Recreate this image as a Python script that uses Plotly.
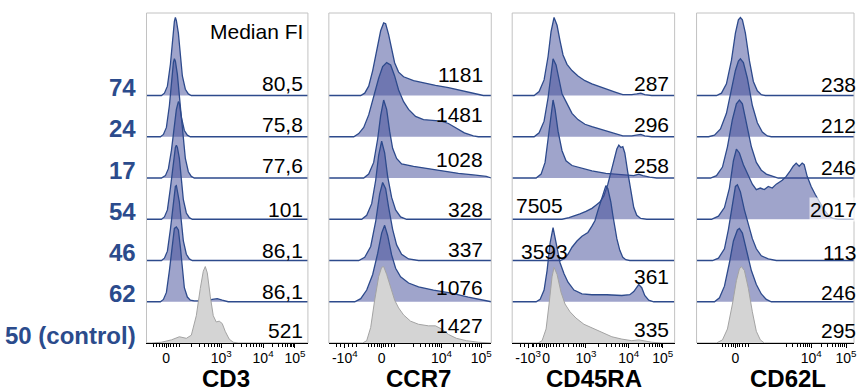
import math
import plotly.graph_objects as go

W, H = 857, 391

# ---------------- data ----------------
ROWS = ["74", "24", "17", "54", "46", "62", "50 (control)"]
MARKERS = ["CD3", "CCR7", "CD45RA", "CD62L"]

MEDIAN_CD3 = ["80,5", "75,8", "77,6", "101", "86,1", "86,1", "521"]
MEDIAN_CCR7 = ["1181", "1481", "1028", "328", "337", "1076", "1427"]
MEDIAN_CD45RA = ["287", "296", "258", "7505", "3593", "361", "335"]
MEDIAN_CD62L = ["238", "212", "246", "2017", "113", "246", "295"]

# tick positions on the display (biexponential channel) scale and their labels
CD3_TICKVALS = [19.7, 75, 117, 149]
CD3_TICKTEXT = ["0", "10<sup>3</sup>", "10<sup>4</sup>", "10<sup>5</sup>"]
CCR7_TICKVALS = [16, 53, 113, 153]
CCR7_TICKTEXT = ["-10<sup>4</sup>", "0", "10<sup>4</sup>", "10<sup>5</sup>"]
CD45RA_TICKVALS = [16, 34, 74, 117, 151]
CD45RA_TICKTEXT = ["-10<sup>3</sup>", "0", "10<sup>3</sup>", "10<sup>4</sup>", "10<sup>5</sup>"]
CD62L_TICKVALS = [39, 115, 150]
CD62L_TICKTEXT = ["0", "10<sup>4</sup>", "10<sup>5</sup>"]

# histograms: (display channel, % of mode)
CD3_74 = [(0, 0), (15, 0), (18, 3), (21, 12), (24, 40), (26, 70), (28, 95), (29, 100), (30, 96), (32, 80), (34, 50), (36, 25), (39, 8), (42, 2), (45, 0), (162, 0)]
CD3_24 = [(0, 0), (14, 0), (17, 3), (20, 12), (23, 40), (25, 72), (27, 95), (28, 100), (29, 97), (31, 80), (33, 50), (35, 25), (38, 8), (41, 2), (44, 0), (162, 0)]
CD3_17 = [(0, 0), (15, 0), (19, 3), (22, 12), (25, 35), (28, 65), (30, 88), (32, 98), (33, 96), (35, 78), (37, 50), (39, 25), (42, 8), (45, 2), (48, 0), (162, 0)]
CD3_54 = [(0, 0), (15, 0), (18, 3), (21, 12), (24, 40), (27, 75), (29, 92), (30, 95), (31, 92), (33, 78), (35, 50), (37, 25), (40, 8), (43, 2), (46, 0), (162, 0)]
CD3_46 = [(0, 0), (15, 0), (18, 3), (21, 12), (24, 40), (27, 78), (29, 95), (30, 96), (31, 90), (33, 75), (35, 50), (37, 25), (40, 8), (43, 2), (46, 0), (162, 0)]
CD3_62 = [(0, 0), (14, 0), (17, 3), (20, 12), (23, 40), (26, 78), (28, 94), (30, 96), (32, 92), (34, 70), (36, 40), (38, 18), (41, 6), (44, 2), (48, 1), (60, 1), (66, 3), (71, 4), (76, 2), (82, 0), (162, 0)]
CD3_CTRL = [(0, 0), (5, 0), (15, 1), (25, 4), (33, 8), (40, 6), (45, 10), (50, 35), (54, 70), (57, 92), (59, 98), (61, 90), (64, 60), (67, 35), (70, 27), (73, 28), (76, 25), (79, 15), (83, 5), (87, 1), (92, 0), (162, 0)]

CCR7_74 = [(0, 0), (32, 0), (36, 3), (40, 12), (44, 32), (48, 60), (52, 83), (55, 93), (57, 92), (60, 78), (63, 58), (66, 42), (70, 30), (75, 24), (85, 19), (95, 16), (107, 13), (120, 10), (135, 6), (148, 2), (155, 0), (163, 0)]
CCR7_24 = [(0, 0), (25, 0), (30, 4), (35, 12), (40, 28), (45, 52), (50, 75), (54, 90), (58, 95), (62, 92), (66, 78), (70, 60), (75, 45), (80, 35), (87, 26), (95, 22), (105, 21), (113, 20), (120, 17), (128, 11), (136, 5), (145, 1), (150, 0), (163, 0)]
CCR7_17 = [(0, 0), (35, 0), (40, 5), (45, 20), (49, 50), (52, 80), (55, 100), (58, 88), (61, 60), (64, 38), (68, 25), (73, 18), (85, 15), (100, 12), (115, 9), (130, 6), (145, 4), (158, 2), (163, 0)]
CCR7_54 = [(0, 0), (33, 0), (38, 5), (43, 20), (47, 50), (50, 82), (53, 100), (56, 85), (59, 55), (63, 28), (67, 12), (72, 3), (78, 0), (163, 0)]
CCR7_46 = [(0, 0), (30, 0), (36, 4), (42, 18), (47, 50), (51, 85), (54, 100), (57, 92), (60, 68), (64, 40), (68, 20), (73, 8), (80, 2), (90, 0), (163, 0)]
CCR7_62 = [(0, 0), (26, 0), (32, 4), (38, 15), (44, 35), (49, 62), (53, 88), (56, 98), (59, 85), (63, 60), (67, 43), (72, 32), (80, 24), (90, 19), (105, 15), (123, 11), (140, 6), (157, 2), (163, 0)]
CCR7_CTRL = [(0, 0), (34, 0), (38, 3), (42, 20), (46, 55), (50, 85), (53, 97), (55, 98), (58, 88), (62, 72), (66, 55), (70, 45), (75, 36), (82, 28), (90, 24), (100, 22), (107, 22), (113, 18), (120, 11), (128, 6), (138, 3), (150, 1), (158, 0), (163, 0)]

CD45RA_74 = [(0, 0), (22, 0), (27, 5), (32, 20), (36, 50), (39, 82), (42, 100), (45, 90), (48, 70), (51, 52), (55, 40), (60, 32), (66, 25), (73, 19), (80, 15), (88, 11), (96, 7), (104, 4), (111, 1), (120, 1), (125, 2), (129, 3), (133, 1), (140, 0), (163, 0)]
CD45RA_24 = [(0, 0), (22, 0), (27, 5), (32, 20), (36, 50), (39, 82), (41, 100), (44, 92), (47, 72), (50, 55), (54, 45), (60, 30), (66, 22), (73, 16), (80, 13), (88, 10), (96, 6), (104, 3), (111, 1), (120, 1), (125, 2), (129, 3), (133, 1), (140, 0), (163, 0)]
CD45RA_17 = [(0, 0), (24, 0), (29, 5), (33, 20), (36, 50), (39, 85), (41, 100), (43, 88), (46, 60), (50, 35), (54, 22), (60, 16), (70, 12), (80, 9), (94, 6), (110, 4), (122, 3), (127, 5), (131, 3), (138, 1), (145, 0), (163, 0)]
CD45RA_54 = [(0, 0), (50, 0), (57, 2), (62, 4), (68, 7), (74, 10), (80, 14), (84, 18), (88, 22), (92, 30), (96, 45), (100, 65), (103, 82), (105, 90), (107, 95), (109, 92), (111, 93), (113, 85), (116, 60), (119, 35), (122, 15), (125, 5), (129, 1), (135, 0), (163, 0)]
CD45RA_46 = [(0, 0), (48, 0), (52, 2), (56, 8), (60, 17), (65, 25), (70, 31), (76, 36), (80, 44), (83, 51), (86, 64), (89, 76), (92, 90), (94, 96), (96, 92), (99, 75), (101, 58), (103, 42), (105, 28), (108, 13), (111, 4), (114, 1), (118, 0), (163, 0)]
CD45RA_62 = [(0, 0), (24, 0), (28, 3), (32, 15), (35, 40), (38, 75), (41, 95), (44, 75), (48, 50), (52, 36), (56, 25), (62, 15), (70, 10), (80, 9), (95, 9), (110, 8), (118, 9), (122, 13), (125, 19), (127, 22), (130, 18), (133, 8), (137, 2), (142, 0), (163, 0)]
CD45RA_CTRL = [(0, 0), (26, 0), (30, 3), (34, 18), (37, 50), (40, 85), (42, 97), (45, 88), (49, 65), (53, 50), (58, 40), (64, 32), (72, 24), (81, 19), (90, 13), (100, 8), (110, 5), (120, 3), (127, 4), (131, 3), (140, 1), (150, 0), (163, 0)]

CD62L_74 = [(0, 0), (20, 0), (25, 3), (30, 15), (35, 45), (39, 80), (42, 97), (44, 100), (46, 97), (49, 80), (53, 45), (57, 18), (61, 6), (65, 1), (69, 0), (158, 0)]
CD62L_24 = [(0, 0), (12, 0), (18, 2), (24, 10), (30, 30), (35, 60), (39, 85), (42, 97), (44, 100), (47, 95), (51, 75), (56, 40), (61, 18), (66, 6), (71, 1), (75, 0), (158, 0)]
CD62L_17 = [(0, 0), (14, 0), (20, 3), (26, 14), (31, 40), (36, 75), (40, 95), (43, 100), (46, 95), (50, 70), (55, 40), (60, 20), (65, 10), (70, 5), (76, 2), (82, 0), (158, 0)]
CD62L_54 = [(0, 0), (15, 0), (22, 4), (28, 15), (33, 40), (37, 75), (40, 90), (43, 85), (47, 70), (52, 55), (56, 45), (60, 38), (64, 40), (68, 38), (72, 42), (76, 40), (80, 45), (86, 50), (90, 55), (94, 62), (97, 68), (100, 72), (103, 68), (106, 72), (108, 70), (111, 55), (115, 42), (119, 32), (123, 23), (128, 12), (133, 4), (137, 1), (142, 0), (158, 0)]
CD62L_46 = [(0, 0), (16, 0), (22, 3), (28, 15), (32, 40), (36, 75), (39, 95), (41, 97), (44, 88), (48, 65), (52, 45), (56, 28), (60, 15), (65, 6), (72, 2), (80, 0), (158, 0)]
CD62L_62 = [(0, 0), (18, 0), (23, 5), (28, 20), (33, 50), (37, 78), (41, 92), (43, 94), (46, 88), (50, 65), (55, 40), (60, 22), (65, 10), (70, 3), (75, 0), (158, 0)]
CD62L_CTRL = [(0, 0), (20, 0), (26, 4), (31, 18), (36, 50), (40, 80), (43, 95), (45, 98), (48, 93), (52, 70), (56, 40), (60, 15), (64, 4), (68, 0), (158, 0)]

# ---------------- layout / style ----------------
FONT = "Liberation Sans, Arial, sans-serif"
BLUE_LINE = "#2d4a8c"
BLUE_FILL = "rgba(63,73,151,0.5)"
GRAY_LINE = "#a3a3a3"
GRAY_FILL = "#d4d4d4"
LABEL_BLUE = "#2b4b8c"

TOP_PX, BOT_PX = 13, 343
ROW_PX = (BOT_PX - TOP_PX) / 8.0
PEAK_ROWS = 78 / ROW_PX  # height of a 100% peak, in row units

# panel pixel extents (left, right) ; last panel is cut by the page edge
PANELS_PX = [(147, 309), (330, 493), (514, 677), (699, 857)]


def px_x(p):
    return p / W


def px_y(p):
    return 1 - p / H


def log_minor(a, b):
    return [a + (b - a) * math.log10(k) for k in range(2, 10)]


panels = [
    dict(name="CD3", rows=[CD3_74, CD3_24, CD3_17, CD3_54, CD3_46, CD3_62, CD3_CTRL],
         med=MEDIAN_CD3, tv=CD3_TICKVALS, tt=CD3_TICKTEXT,
         offs=[12.5, 12, 12.5, 9.5, 10.5, 10.5, 12.5], left=[], title_x=226.5),
    dict(name="CCR7", rows=[CCR7_74, CCR7_24, CCR7_17, CCR7_54, CCR7_46, CCR7_62, CCR7_CTRL],
         med=MEDIAN_CCR7, tv=CCR7_TICKVALS, tt=CCR7_TICKTEXT,
         offs=[21.5, 22.5, 18.5, 10, 11.5, 14.5, 18], left=[], title_x=420),
    dict(name="CD45RA", rows=[CD45RA_74, CD45RA_24, CD45RA_17, CD45RA_54, CD45RA_46, CD45RA_62, CD45RA_CTRL],
         med=MEDIAN_CD45RA, tv=CD45RA_TICKVALS, tt=CD45RA_TICKTEXT,
         offs=[12.5, 12.5, 12.5, 13.5, 9.5, 25.5, 13.5], left=[3, 4], title_x=596),
    dict(name="CD62L", rows=[CD62L_74, CD62L_24, CD62L_17, CD62L_54, CD62L_46, CD62L_62, CD62L_CTRL],
         med=MEDIAN_CD62L, tv=CD62L_TICKVALS, tt=CD62L_TICKTEXT,
         offs=[11.5, 11.5, 11, 9.5, 8, 9.5, 12.5], left=[], title_x=791),
]
LEFT_TEXT_PX = {3: 516, 4: 521}
RIGHT_TEXT_PX = [306, 487, 673, 861]

fig = go.Figure()
annotations = []
shapes = []
layout_axes = {}

for pi, p in enumerate(panels):
    ax = "x" if pi == 0 else f"x{pi + 1}"
    lpx, rpx = PANELS_PX[pi]
    n = len(p["rows"])
    for ri, hist in enumerate(p["rows"]):
        base = n - 1 - ri
        xs = [v[0] for v in hist]
        ys = [base + v[1] / 100.0 * PEAK_ROWS for v in hist]
        ctrl = ri == n - 1
        fig.add_trace(go.Scatter(
            x=xs, y=ys, xaxis=ax, yaxis="y", mode="lines",
            fill="toself",
            fillcolor=GRAY_FILL if ctrl else BLUE_FILL,
            line=dict(color=GRAY_LINE if ctrl else BLUE_LINE, width=1 if ctrl else 1.3),
            hoverinfo="skip", showlegend=False,
        ))
        # median label
        y_lab = base + p["offs"][ri] / ROW_PX
        if ri in p["left"]:
            annotations.append(dict(x=px_x(LEFT_TEXT_PX[ri]), xref="paper", y=y_lab, yref="y",
                                    text=p["med"][ri], showarrow=False, xanchor="left", yanchor="middle",
                                    font=dict(family=FONT, size=21, color="black")))
        else:
            extra = {}
            if p["med"][ri] == "2017":
                extra = dict(bgcolor="rgba(255,255,255,0.65)", borderpad=0)
            annotations.append(dict(x=px_x(RIGHT_TEXT_PX[pi]), xref="paper", y=y_lab, yref="y",
                                    text=p["med"][ri], showarrow=False, xanchor="right", yanchor="middle",
                                    font=dict(family=FONT, size=21, color="black"), **extra))

    # minor ticks (biexponential-like decades)
    tv = p["tv"]
    zero = tv[p["tt"].index("0")]
    pos = [t for t, s in zip(tv, p["tt"]) if s.startswith("10")]
    minor = [zero + d for d in (-13, -10, -7, -4, -2, 2, 4, 7, 10, 13)]
    if len(pos) >= 2:
        step = pos[1] - pos[0]
        decs = [pos[0] - step] + pos
        for a, b in zip(decs[:-1], decs[1:]):
            minor += [m for m in log_minor(a, b) if m > zero + 15]
    neg = [t for t, s in zip(tv, p["tt"]) if s.startswith("-")]
    for nv in neg:
        minor += [nv + d for d in (-8, -4, 4, 8, 12)]
    width = rpx - lpx
    minor = [m for m in minor if 1 < m < width - 1]

    layout_axes["xaxis" if pi == 0 else f"xaxis{pi + 1}"] = dict(
        domain=[px_x(lpx), px_x(rpx)], range=[0, width], anchor="y",
        showline=True, linecolor="black", linewidth=1, mirror=False,
        ticks="outside", ticklen=4, tickwidth=1, tickcolor="black",
        tickmode="array", tickvals=tv, ticktext=p["tt"], tickangle=0,
        ticklabelstandoff=-2, ticklabeloverflow="allow",
        tickfont=dict(family=FONT, size=14, color="black"),
        showgrid=False, zeroline=False, fixedrange=True,
        minor=dict(tickmode="array", tickvals=minor, ticks="outside", ticklen=3,
                   tickcolor="black", tickwidth=1, showgrid=False),
    )
    # frame of the panel (top, left, right)
    shapes.append(dict(type="path", xref="paper", yref="paper",
                       path=f"M {px_x(lpx)} {px_y(BOT_PX)} L {px_x(lpx)} {px_y(TOP_PX)} "
                            f"L {px_x(rpx)} {px_y(TOP_PX)} L {px_x(rpx)} {px_y(BOT_PX)}",
                       line=dict(color="#c2c2c2", width=1)))
    # axis title
    annotations.append(dict(x=px_x(p["title_x"]), xref="paper", y=px_y(378), yref="paper",
                            text=f"<b>{p['name']}</b>", showarrow=False, xanchor="center", yanchor="middle",
                            font=dict(family=FONT, size=24, color="black")))

# row labels
for ri, lab in enumerate(ROWS):
    base = len(ROWS) - 1 - ri
    annotations.append(dict(x=px_x(138), xref="paper", y=base + 8 / ROW_PX, yref="y",
                            text=f"<b>{lab}</b>", showarrow=False, xanchor="right", yanchor="middle",
                            font=dict(family=FONT, size=24, color=LABEL_BLUE)))

annotations.append(dict(x=px_x(306), xref="paper", y=px_y(31), yref="paper", text="Median FI",
                        showarrow=False, xanchor="right", yanchor="middle",
                        font=dict(family=FONT, size=21, color="black")))

fig.update_layout(
    width=W, height=H, margin=dict(l=0, r=0, t=0, b=0),
    paper_bgcolor="white", plot_bgcolor="rgba(0,0,0,0)",
    showlegend=False,
    yaxis=dict(domain=[px_y(BOT_PX), px_y(TOP_PX)], range=[0, 8], visible=False, fixedrange=True),
    annotations=annotations, shapes=shapes,
    **layout_axes,
)

fig.write_html("out.html", config={"displayModeBar": False})
